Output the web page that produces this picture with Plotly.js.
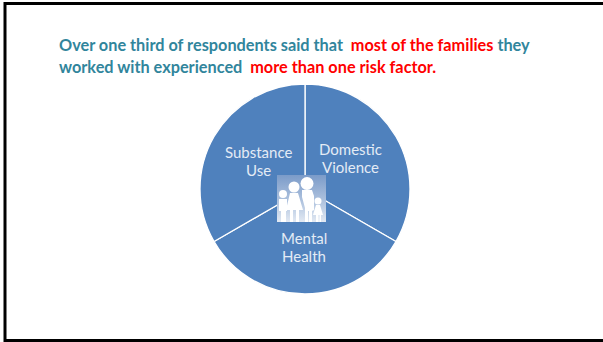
<!DOCTYPE html>
<html>
<head>
<meta charset="utf-8">
<script src="https://cdn.plot.ly/plotly-3.0.1.min.js"></script>
<style>
html, body { margin: 0; padding: 0; background: #fff; overflow: hidden; }
#chart { width: 603px; height: 342px; }
</style>
</head>
<body>
<div id="chart"></div>
<script>
// Risk factors reported by respondents, shown as three equal wedges
const categories = ['Domestic Violence', 'Mental Health', 'Substance Use'];
const shares = [1, 1, 1];
const labelX = [350, 304, 258];
const labelY = [149, 238.500, 152];
const headingLines = [
  "<b>Over one third of respondents said that  </b><b style='color:#ff0000'>most of the families</b><b> they</b>",
  "<b>worked with experienced  </b><b style='color:#ff0000'>more than one risk factor.</b>"
];
const headingY = [45, 66.500];
const W = 603, H = 342;

// Family silhouette placed over the centre of the pie
const familyIcon = `<svg xmlns="http://www.w3.org/2000/svg" width="49" height="47" viewBox="0 0 49 47">
<defs><linearGradient id="g" x1="0" y1="0" x2="0" y2="1">
<stop offset="0" stop-color="#7b9bc9"/><stop offset="0.55" stop-color="#aec2de"/><stop offset="1" stop-color="#e2e9f3"/>
</linearGradient></defs>
<rect width="49" height="47" fill="url(#g)"/>
<g fill="#fff">
<circle cx="6" cy="19" r="4"/><path d="M2 24h8v12h-1v11H4V36H2z"/>
<circle cx="17" cy="12" r="5.500"/><path d="M13 18h8l5 17h-4v12h-3V35h-3v12h-3V35H9z"/>
<circle cx="30" cy="8.500" r="6.500"/><path d="M25 15h10l2 6v14l-2 1v11h-3V36h-1v11h-3V33l-3-11z"/>
<circle cx="41" cy="26" r="3.500"/><path d="M39 30h4l3 10h-2v7h-1.500v-7h-1v7H39v-7h-3z"/>
</g></svg>`;

const px = x => x / W;
const py = y => 1 - y / H;

// Each wedge label is stacked on two lines, one word per line
const annotations = [];
categories.forEach((c, i) => {
  c.split(' ').forEach((word, k) => annotations.push({
    text: word, xref: 'paper', yref: 'paper', x: px(labelX[i]), y: py(labelY[i] + k * 17.5),
    xanchor: 'center', yanchor: 'middle', showarrow: false,
    font: { family: 'Lato, sans-serif', size: 15, color: '#e4ebf5' }
  }));
});
headingLines.forEach((t, i) => annotations.push({
  text: t, xref: 'paper', yref: 'paper', x: px(57), y: py(headingY[i]),
  xanchor: 'left', yanchor: 'middle', showarrow: false, align: 'left',
  font: { family: 'Lato, sans-serif', size: 16.300, color: '#31859c' }
}));

Plotly.newPlot('chart', [{
  type: 'pie',
  values: shares,
  labels: categories,
  sort: false,
  direction: 'clockwise',
  rotation: 0,
  textinfo: 'none',
  hoverinfo: 'label',
  marker: { colors: ['#4f81bd', '#4f81bd', '#4f81bd'], line: { color: '#ffffff', width: 1.300 } },
  domain: { x: [px(200), px(410)], y: [py(294), py(84)] }
}], {
  width: W, height: H,
  margin: { l: 0, r: 0, t: 0, b: 0 },
  paper_bgcolor: '#ffffff',
  showlegend: false,
  annotations: annotations,
  shapes: [
    { type: 'line', xref: 'paper', yref: 'paper', x0: px(5), x1: px(5), y0: py(2), y1: py(342), line: { color: '#000', width: 3 } },
    { type: 'line', xref: 'paper', yref: 'paper', x0: px(4), x1: 1, y0: py(3.5), y1: py(3.5), line: { color: '#000', width: 3 } },
    { type: 'line', xref: 'paper', yref: 'paper', x0: px(4), x1: 1, y0: py(340.5), y1: py(340.5), line: { color: '#000', width: 3 } }
  ],
  images: [{
    source: 'data:image/svg+xml;utf8,' + encodeURIComponent(familyIcon),
    xref: 'paper', yref: 'paper', x: px(277), y: py(175), sizex: 49 / W, sizey: 47 / H,
    xanchor: 'left', yanchor: 'top', sizing: 'stretch', layer: 'above'
  }]
}, { displayModeBar: false, staticPlot: true });
</script>
</body>
</html>
